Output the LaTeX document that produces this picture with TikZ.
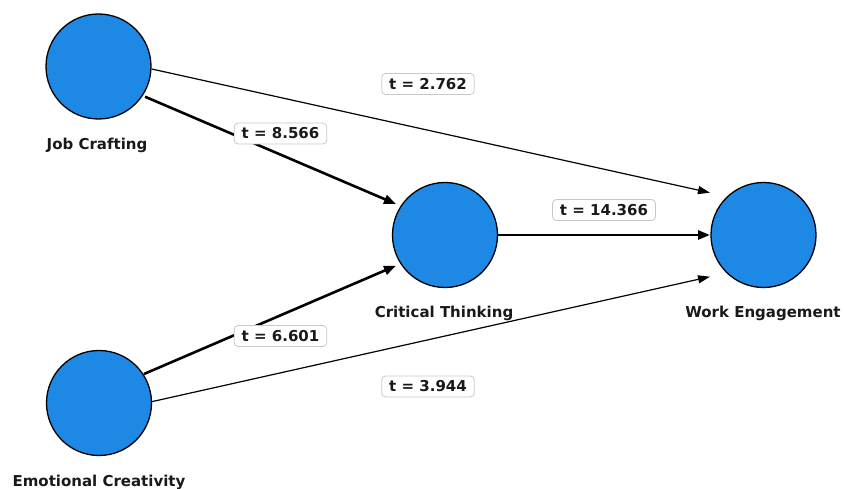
\documentclass[tikz,border=0pt]{standalone}
\usepackage{fontspec}
\setmainfont{DejaVu Sans}
\usetikzlibrary{arrows.meta,calc}
\definecolor{nodeblue}{RGB}{30,136,229}
\definecolor{boxgray}{RGB}{200,200,200}
\tikzset{
  latent/.style={circle,draw=black,line width=1.3pt,fill=nodeblue,minimum size=105pt,inner sep=0pt},
  vlabel/.style={font=\fontsize{15}{18}\selectfont\bfseries,text=black!90},
  tbox/.style={draw=boxgray,line width=0.8pt,fill=white,rounded corners=4pt,inner xsep=7.5pt,inner ysep=0pt,minimum height=21pt,font=\fontsize{15}{18}\selectfont\bfseries,text=black!90},
  thin/.style={line width=1.2pt,-{Triangle[length=12pt,width=8pt]}},
  thick/.style={line width=2.6pt,-{Triangle[length=12pt,width=9pt]}}
}
\begin{document}
\begin{tikzpicture}[x=1pt,y=-1pt]
\useasboundingbox (0,0) rectangle (844,489);
\node[latent] (jc) at (98.5,66.5) {};
\node[latent] (ct) at (445,235) {};
\node[latent] (we) at (763.5,235) {};
\node[latent] (ec) at (99,403) {};
\node[vlabel] (ljc) at (97,145) {Job Crafting};
\node[vlabel] (lct) at (444,313) {Critical Thinking};
\node[vlabel] (lwe) at (763,313) {Work Engagement};
\node[vlabel] (lec) at (99,482) {Emotional Creativity};
\draw[thin] ($(jc)+(53.2,2.5)$) -- ($(we)+(-53.5,-42.3)$);
\draw[thick] ($(jc)+(46.5,30.2)$) -- ($(ct)+(-49,-31)$);
\draw[thick] ($(ec)+(45,-29)$) -- ($(ct)+(-49,30.7)$);
\draw[thin] ($(ec)+(52.7,-1.3)$) -- ($(we)+(-53.5,41.7)$);
\draw[thick] (ct.east) -- ($(we)+(-53.5,0)$);
\node[tbox] (t1) at (428,84) {t = 2.762};
\node[tbox] (t2) at (280.5,133.5) {t = 8.566};
\node[tbox] (t3) at (604,210) {t = 14.366};
\node[tbox] (t4) at (280.5,336) {t = 6.601};
\node[tbox] (t5) at (428,386.5) {t = 3.944};
\end{tikzpicture}
\end{document}
